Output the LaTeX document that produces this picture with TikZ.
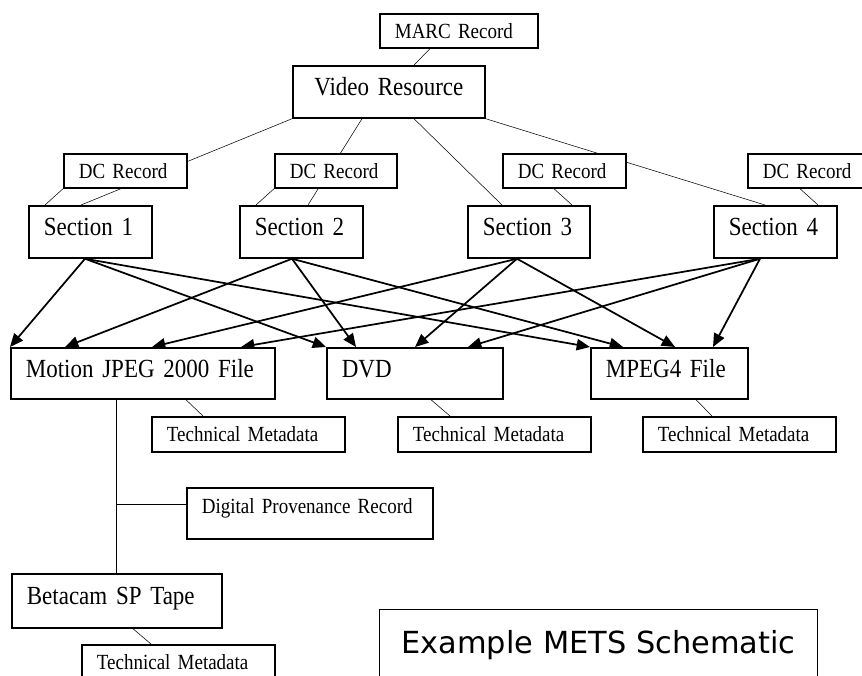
\documentclass[tikz,border=0pt]{standalone}
\usepackage{fontspec}
\setmainfont[FakeStretch=0.88, WordSpace=0.8]{Liberation Serif}
\newfontfamily\titlefont{DejaVu Sans}
\usetikzlibrary{arrows.meta}
\usetikzlibrary{calc}
\pgfdeclarelayer{bg}
\pgfsetlayers{bg,main}

\begin{document}
\begin{tikzpicture}[x=0.75pt, y=-0.75pt, line width=1.15pt,
		box/.style = {draw, line width=1.3pt, fill=white, anchor=north west, align=left, inner xsep=11.25pt, inner ysep=0pt},
		big/.style = {box, font=\fontsize{19.6pt}{22pt}\selectfont, text height=13.5pt, text depth=7.5pt, minimum height=39pt},
		small/.style = {box, font=\fontsize{16.2pt}{19pt}\selectfont, text height=11.3pt, text depth=0pt, minimum height=25.5pt},
		flow/.style = {-{Triangle[length=10pt, width=8.5pt]}, line width=1.3pt}]
	\useasboundingbox (0,0) rectangle (862,675);
	% top of the tree
	\node[small, text width=96pt] (marc) at (379,13) {MARC Record};
	\node[big, text width=121.5pt, align=center] (vr) at (292,65) {Video Resource};
	\node[small, text width=69.75pt] (dc1) at (63,153) {DC Record};
	\node[small, text width=69pt] (dc2) at (274,153) {DC Record};
	\node[small, text width=69.75pt] (dc3) at (502,153) {DC Record};
	\node[small, text width=69.75pt] (dc4) at (747,153) {DC Record};
	\node[big, text width=69.75pt] (sec1) at (28,205) {Section 1};
	\node[big, text width=69.75pt] (sec2) at (239,205) {Section 2};
	\node[big, text width=69pt] (sec3) at (467,205) {Section 3};
	\node[big, text width=69.75pt] (sec4) at (713,205) {Section 4};
	% files
	\node[big, text width=175.5pt, minimum height=38.25pt] (mj2) at (10,347) {Motion JPEG 2000 File};
	\node[big, text width=109.5pt, minimum height=38.25pt] (dvd) at (326,347) {DVD};
	\node[big, text width=95.25pt, minimum height=38.25pt] (mp4) at (590,347) {MPEG4 File};
	\node[small, text width=122.25pt, minimum height=26.25pt] (tm1) at (151,416) {Technical Metadata};
	\node[small, text width=122.25pt, minimum height=26.25pt] (tm2) at (397,416) {Technical Metadata};
	\node[small, text width=122.25pt, minimum height=26.25pt] (tm3) at (642,416) {Technical Metadata};
	% source tape
	\node[small, text width=162pt, minimum height=38.25pt, text depth=10.5pt] (dp) at (186,487) {Digital Provenance Record};
	\node[big, text width=135pt, minimum height=40.5pt] (beta) at (11,573) {Betacam SP Tape};
	\node[small, text width=122.25pt, minimum height=26.25pt] (tm4) at (81,644) {Technical Metadata};
	\coordinate (prov) at (116,504);
	\node[draw, line width=0.8pt, anchor=north west, font=\titlefont\fontsize{22.8pt}{26pt}\selectfont, inner xsep=16.5pt, inner ysep=16.5pt, text height=16.5pt, text depth=40pt] (title) at (379,609) {Example METS Schematic};

	\begin{pgfonlayer}{bg}
		\draw ($(marc.south west)+(51,0)$) -- ($(vr.north west)+(122,0)$);
		\draw (vr.south west) -- ($(sec1.north west)+(53,0)$);
		\draw ($(vr.south west)+(70,0)$) -- ($(sec2.north west)+(69,0)$);
		\draw ($(vr.south west)+(122,0)$) -- ($(sec3.north west)+(35,0)$);
		\draw (vr.south east) -- ($(sec4.north west)+(52,0)$);
		\draw (dc1.south west) -- ($(sec1.north west)+(17,0)$);
		\draw (dc2.south west) -- ($(sec2.north west)+(17,0)$);
		\draw ($(dc3.south west)+(52,0)$) -- ($(sec3.north west)+(105,0)$);
		\draw ($(dc4.south west)+(53,0)$) -- ($(sec4.north west)+(105,0)$);
		% sections to files
		\draw[flow] ($(sec1.south west)+(57,0)$) -- (mj2.north west);
		\draw[flow] ($(sec1.south west)+(57,0)$) -- (dvd.north west);
		\draw[flow] ($(sec1.south west)+(57,0)$) -- (mp4.north west);
		\draw[flow] ($(sec2.south west)+(53,0)$) -- ($(mj2.north west)+(55,0)$);
		\draw[flow] ($(sec2.south west)+(53,0)$) -- ($(dvd.north west)+(30,0)$);
		\draw[flow] ($(sec2.south west)+(53,0)$) -- ($(mp4.north west)+(33,0)$);
		\draw[flow] ($(sec3.south west)+(50,0)$) -- ($(mj2.north west)+(142,0)$);
		\draw[flow] ($(sec3.south west)+(50,0)$) -- ($(dvd.north west)+(89,0)$);
		\draw[flow] ($(sec3.south west)+(50,0)$) -- ($(mp4.north west)+(85,0)$);
		\draw[flow] ($(sec4.south west)+(47,0)$) -- ($(mj2.north west)+(231,0)$);
		\draw[flow] ($(sec4.south west)+(47,0)$) -- ($(dvd.north west)+(142,0)$);
		\draw[flow] ($(sec4.south west)+(47,0)$) -- ($(mp4.north west)+(123,0)$);
		% metadata
		\draw ($(mj2.south west)+(176,0)$) -- ($(tm1.north west)+(52,0)$);
		\draw ($(dvd.south west)+(105,0)$) -- ($(tm2.north west)+(53,0)$);
		\draw ($(mp4.south west)+(106,0)$) -- ($(tm3.north west)+(70,0)$);
		\draw ($(mj2.south west)+(106,0)$) -- ($(beta.north west)+(105,0)$);
		\draw (prov) -- (prov -| dp.west);
		\draw ($(beta.south west)+(122,0)$) -- ($(tm4.north west)+(70,0)$);
	\end{pgfonlayer}
\end{tikzpicture}
\end{document}
